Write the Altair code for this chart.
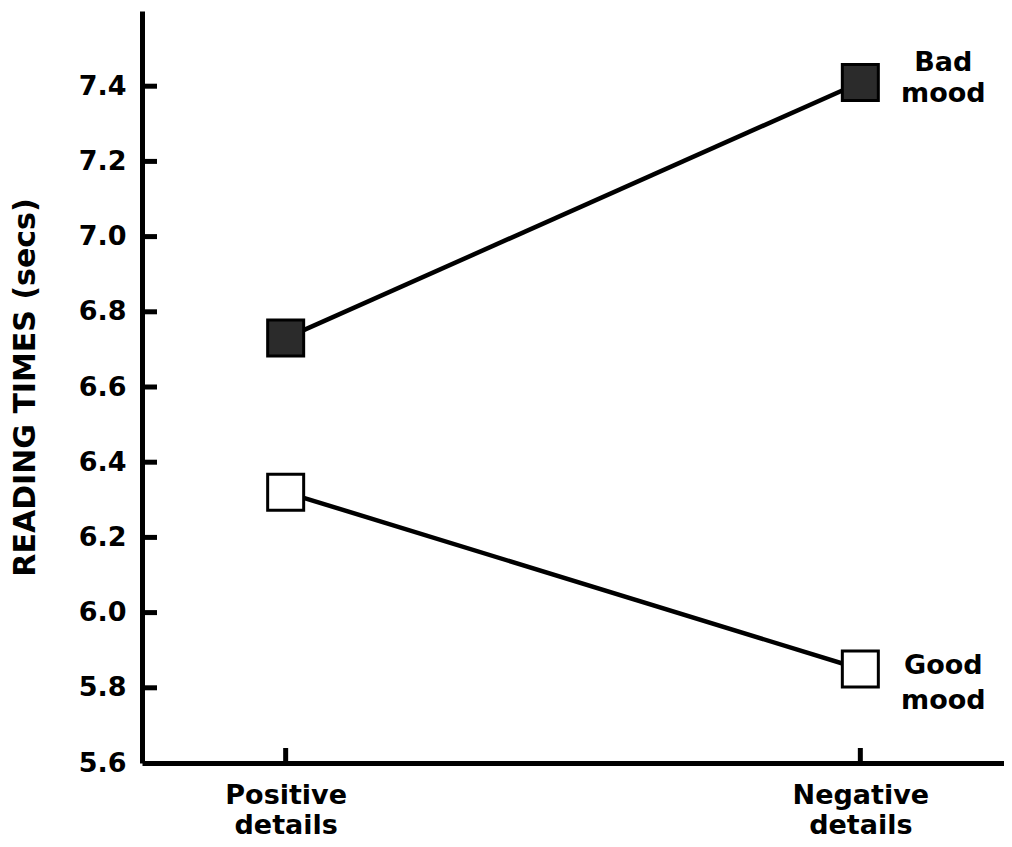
import altair as alt
import pandas as pd

FONT = "DejaVu Sans"

conditions = ["Positive details", "Negative details"]
series_names = ["Bad mood", "Good mood"]
bad_mood = [6.73, 7.41]
good_mood = [6.32, 5.85]
y_label_values = [5.6, 5.8, 6.0, 6.2, 6.4, 6.6, 6.8, 7.0, 7.2, 7.4]
y_inner_ticks = [5.8, 6.0, 6.2, 6.4, 6.6, 6.8, 7.0, 7.2, 7.4]
y_domain = [5.6, 7.6]

rows = []
for name, vals in zip(series_names, [bad_mood, good_mood]):
    for c, v in zip(conditions, vals):
        rows.append({"condition": c, "series": name, "value": v})
df = pd.DataFrame(rows)

yscale = alt.Scale(domain=y_domain, nice=False, zero=False)
xscale = alt.Scale(type="point", padding=0.25)

x_enc = alt.X(
    "condition:N",
    sort=conditions,
    scale=xscale,
    axis=alt.Axis(
        title=None,
        labelAngle=0,
        labelExpr="split(datum.label, ' ')",
        labelPadding=19,
        labelLineHeight=30,
        ticks=False,
        grid=False,
        domainWidth=5,
    ),
)
y_enc = alt.Y(
    "value:Q",
    scale=yscale,
    axis=alt.Axis(
        title="READING TIMES (secs)",
        values=y_label_values,
        format=".1f",
        ticks=False,
        grid=False,
        domainWidth=5,
        labelPadding=16,
        titlePadding=38,
    ),
)

lines = alt.Chart(df).mark_line(color="black", strokeWidth=4.5).encode(
    x=x_enc, y=y_enc, detail="series:N"
)

points = alt.Chart(df).mark_point(
    shape="square", size=1296, filled=False, stroke="black", strokeWidth=3, opacity=1
).encode(
    x=alt.X("condition:N", sort=conditions, scale=xscale),
    y=alt.Y("value:Q", scale=yscale),
    fill=alt.Fill(
        "series:N",
        scale=alt.Scale(domain=series_names, range=["#2b2b2b", "white"]),
        legend=None,
    ),
)

ytick_df = pd.DataFrame({"value": y_inner_ticks})
yticks = alt.Chart(ytick_df).mark_tick(
    orient="horizontal", size=15, thickness=5, color="black", opacity=1
).encode(
    y=alt.Y("value:Q", scale=yscale),
    x=alt.value(7.5),
)

xtick_df = pd.DataFrame({"condition": conditions})
xticks = alt.Chart(xtick_df).mark_tick(
    orient="vertical", size=15, thickness=5, color="black", opacity=1
).encode(
    x=alt.X("condition:N", sort=conditions, scale=xscale),
    y=alt.value(744.5),
)

label_df = df[df["condition"] == conditions[-1]].copy()
label_df["label"] = label_df["series"].str.replace(" ", "\n")

bad_label = alt.Chart(label_df[label_df["series"] == series_names[0]]).mark_text(
    font=FONT, fontSize=27, fontWeight="bold", color="black",
    align="center", baseline="middle", dx=83, dy=-19, lineBreak="\n", lineHeight=31,
).encode(
    x=alt.X("condition:N", sort=conditions, scale=xscale),
    y=alt.Y("value:Q", scale=yscale),
    text="label:N",
)
good_label = alt.Chart(label_df[label_df["series"] == series_names[1]]).mark_text(
    font=FONT, fontSize=27, fontWeight="bold", color="black",
    align="center", baseline="middle", dx=83, dy=-3, lineBreak="\n", lineHeight=35,
).encode(
    x=alt.X("condition:N", sort=conditions, scale=xscale),
    y=alt.Y("value:Q", scale=yscale),
    text="label:N",
)

chart = (
    alt.layer(lines, points, yticks, xticks, bad_label, good_label)
    .properties(
        width=862,
        height=752,
        padding={"left": 134, "top": 3, "right": 0, "bottom": 76},
        autosize=alt.AutoSizeParams(type="none"),
        background="white",
    )
    .configure_view(stroke=None)
    .configure_axis(
        labelFont=FONT,
        labelFontSize=27,
        labelFontWeight="bold",
        labelColor="black",
        titleFont=FONT,
        titleFontSize=30,
        titleFontWeight="bold",
        titleColor="black",
        domainColor="black",
    )
)

chart.save("out.html", embed_options={"renderer": "svg", "actions": False})
